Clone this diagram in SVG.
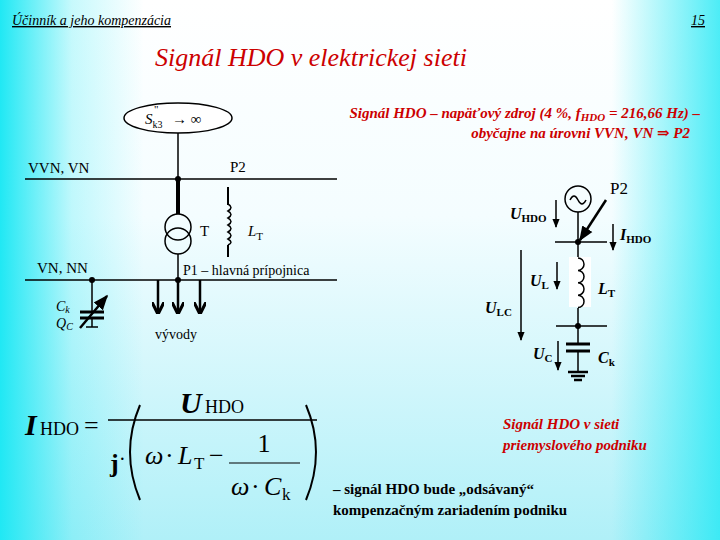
<svg xmlns="http://www.w3.org/2000/svg" width="720" height="540" viewBox="0 0 720 540" font-family="'Liberation Serif','DejaVu Serif',serif">
<defs>
<linearGradient id="gv" x1="0" y1="0" x2="0" y2="1"><stop offset="0" stop-color="#ffffff"/><stop offset="0.4" stop-color="#f4fdff"/><stop offset="1" stop-color="#b0f0f8"/></linearGradient>
<linearGradient id="gh" x1="0" y1="0" x2="1" y2="0"><stop offset="0" stop-color="#20e8f4"/><stop offset="0.1" stop-color="#20e8f4" stop-opacity="0.25"/><stop offset="0.2" stop-color="#20e8f4" stop-opacity="0"/><stop offset="0.85" stop-color="#20e8f4" stop-opacity="0"/><stop offset="1" stop-color="#20e8f4" stop-opacity="0.8"/></linearGradient>
<marker id="ah" viewBox="0 0 10 10" refX="9" refY="5" markerWidth="6" markerHeight="6" orient="auto"><path d="M0,1 L10,5 L0,9 Z" fill="#000"/></marker>
<marker id="av" viewBox="0 0 10 10" refX="9" refY="5" markerWidth="5" markerHeight="5" orient="auto"><path d="M0,0 L10,5 L0,10" fill="none" stroke="#000" stroke-width="2.5"/></marker>
</defs>
<style>
text{font-family:"Liberation Serif","DejaVu Serif",serif}
.t{fill:#000}
.r{fill:#cc0000;font-style:italic;font-weight:bold}
.w{stroke:#000;fill:none;stroke-width:1.5}
</style>
<rect width="720" height="540" fill="url(#gv)"/>
<rect width="720" height="540" fill="url(#gh)"/>
<text class="t" x="12" y="25" font-size="14" font-style="italic" text-decoration="underline">Účinník a jeho kompenzácia</text>
<text class="t" x="705" y="25" font-size="14" font-style="italic" text-anchor="end" text-decoration="underline">15</text>
<text class="r" x="155" y="66" font-size="26" style="font-weight:normal">Signál HDO v elektrickej sieti</text>
<text class="r" x="700" y="118" font-size="15" text-anchor="end">Signál HDO – napäťový zdroj (4 %, f<tspan font-size="11" dy="3">HDO</tspan><tspan dy="-3"> = 216,66 Hz) –</tspan></text>
<text class="r" x="690" y="138" font-size="15" text-anchor="end">obyčajne na úrovni VVN, VN ⇒ P2</text>
<g id="left-network">
<ellipse cx="178" cy="118" rx="54" ry="15" fill="#fff" stroke="#000" stroke-width="1.5"/>
<text class="t" x="145" y="124" font-size="15" font-style="italic">S<tspan font-size="10" font-style="normal" dy="4">k3</tspan></text>
<text class="t" x="154" y="113" font-size="11">"</text>
<text class="t" x="172" y="124" font-size="15">→ ∞</text>
<line x1="178" y1="133" x2="178" y2="179" class="w" stroke-width="2"/>
<line x1="25" y1="179" x2="337" y2="179" class="w" stroke-width="3"/>
<circle cx="178" cy="179" r="3"/>
<text class="t" x="28" y="173" font-size="15">VVN, VN</text>
<text class="t" x="230" y="172" font-size="15">P2</text>
<line x1="178" y1="179" x2="178" y2="214" stroke="#000" stroke-width="4"/>
<circle cx="178" cy="227" r="13" class="w" stroke-width="3"/>
<circle cx="178" cy="241" r="13" class="w" stroke-width="3"/>
<text class="t" x="200" y="236" font-size="15">T</text>
<path d="M228,204 q6,3.5 0,7 q6,3.5 0,7 q6,3.5 0,7 q6,3.5 0,7 q6,3.5 0,7 q6,3.5 0,6" class="w" stroke-width="1"/>
<line x1="228" y1="187" x2="228" y2="205" stroke="#000" stroke-width="2"/>
<line x1="228" y1="245" x2="228" y2="257" stroke="#000" stroke-width="2"/>
<text class="t" x="248" y="236" font-size="15" font-style="italic">L<tspan font-size="11" font-style="normal" dy="4">T</tspan></text>
<line x1="178" y1="254" x2="178" y2="280" class="w" stroke-width="2"/>
<line x1="25" y1="280" x2="337" y2="280" class="w" stroke-width="3"/>
<circle cx="178" cy="280" r="3"/>
<circle cx="92" cy="280" r="3"/>
<text class="t" x="37" y="273" font-size="15">VN, NN</text>
<text class="t" x="183" y="275" font-size="14">P1 – hlavná prípojnica</text>
<line x1="92" y1="280" x2="92" y2="311" class="w" stroke-width="2"/>
<line x1="80" y1="312" x2="104" y2="312" stroke="#000" stroke-width="3"/>
<line x1="80" y1="318" x2="104" y2="318" stroke="#000" stroke-width="3"/>
<line x1="92" y1="318" x2="92" y2="327" class="w" stroke-width="2"/>
<line x1="86" y1="327" x2="98" y2="327" class="w" stroke-width="2"/>
<line x1="80" y1="328" x2="107" y2="296" stroke="#000" stroke-width="2.5" marker-end="url(#ah)"/>
<text class="t" x="56" y="311" font-size="14" font-style="italic">C<tspan font-size="10" dy="2">k</tspan></text>
<text class="t" x="56" y="328" font-size="14" font-style="italic">Q<tspan font-size="10" dy="2">C</tspan></text>
<g stroke="#000" stroke-width="2.5"><line x1="158" y1="280" x2="158" y2="313" marker-end="url(#av)"/><line x1="178" y1="280" x2="178" y2="313" marker-end="url(#av)"/><line x1="200" y1="280" x2="200" y2="313" marker-end="url(#av)"/></g>
<text class="t" x="155" y="339" font-size="14">vývody</text>
</g>
<g id="right-circuit">
<circle cx="578" cy="199" r="13" class="w" stroke-width="2"/>
<path d="M570,200 q4,-8 8,0 t8,0" class="w" stroke-width="1.5"/>
<line x1="578" y1="212" x2="578" y2="258" class="w" stroke-width="1.5"/>
<line x1="555" y1="242" x2="607" y2="242" class="w" stroke-width="1.5"/>
<circle cx="578" cy="242" r="3"/>
<text class="t" x="610" y="194" font-size="17">P2</text>
<line x1="606" y1="200" x2="580" y2="240" stroke="#000" stroke-width="2.5" marker-end="url(#ah)"/>
<text class="t" x="510" y="219" font-size="16" font-style="italic" font-weight="bold">U<tspan font-size="11" font-style="normal" dy="3">HDO</tspan></text>
<line x1="556" y1="200" x2="556" y2="227" class="w" stroke-width="1" marker-end="url(#ah)"/>
<line x1="613" y1="224" x2="613" y2="250" class="w" stroke-width="1" marker-end="url(#ah)"/>
<text class="t" x="620" y="240" font-size="16" font-style="italic" font-weight="bold">I<tspan font-size="11" font-style="normal" dy="3">HDO</tspan></text>
<rect x="569" y="257" width="22" height="50" fill="#fff"/>
<path d="M578,258 a6,6.2 0 1 1 0,12.4 a6,6.2 0 1 1 0,12.4 a6,6.2 0 1 1 0,12.4 a6,6.2 0 1 1 0,12.4" class="w" stroke-width="2"/>
<line x1="578" y1="308" x2="578" y2="343" class="w" stroke-width="1.5"/>
<line x1="556" y1="326" x2="607" y2="326" class="w" stroke-width="1.5"/>
<circle cx="578" cy="326" r="3"/>
<line x1="521" y1="250" x2="521" y2="340" class="w" stroke-width="1" marker-end="url(#ah)"/>
<text class="t" x="485" y="313" font-size="16" font-style="italic" font-weight="bold">U<tspan font-size="11" font-style="normal" dy="3">LC</tspan></text>
<text class="t" x="530" y="286" font-size="16" font-style="italic" font-weight="bold">U<tspan font-size="11" font-style="normal" dy="3">L</tspan></text>
<line x1="557" y1="262" x2="557" y2="289" class="w" stroke-width="1" marker-end="url(#ah)"/>
<text class="t" x="598" y="294" font-size="16" font-style="italic" font-weight="bold">L<tspan font-size="11" font-style="normal" dy="3">T</tspan></text>
<line x1="566" y1="344" x2="590" y2="344" stroke="#000" stroke-width="3"/>
<line x1="566" y1="351" x2="590" y2="351" stroke="#000" stroke-width="3"/>
<line x1="578" y1="351" x2="578" y2="372" class="w" stroke-width="1.5"/>
<line x1="568" y1="372" x2="588" y2="372" stroke="#000" stroke-width="2.5"/>
<line x1="571" y1="376" x2="585" y2="376" stroke="#000" stroke-width="2.5"/>
<line x1="574" y1="380" x2="582" y2="380" stroke="#000" stroke-width="2.5"/>
<text class="t" x="533" y="359" font-size="16" font-style="italic" font-weight="bold">U<tspan font-size="11" font-style="normal" dy="3">C</tspan></text>
<line x1="558" y1="341" x2="558" y2="370" class="w" stroke-width="1" marker-end="url(#ah)"/>
<text class="t" x="598" y="363" font-size="16" font-style="italic" font-weight="bold">C<tspan font-size="11" font-style="normal" dy="3">k</tspan></text>
</g>
<g id="formula">
<text class="t" x="25" y="435" font-size="30" font-style="italic" font-weight="bold">I</text>
<text class="t" x="40" y="435" font-size="18">HDO</text>
<text class="t" x="84" y="434" font-size="26">=</text>
<line x1="108" y1="420" x2="317" y2="420" stroke="#000" stroke-width="1.5"/>
<text class="t" x="180" y="413" font-size="30" font-style="italic" font-weight="bold">U</text>
<text class="t" x="205" y="413" font-size="18">HDO</text>
<text class="t" x="110" y="472" font-size="26" font-weight="bold">j</text>
<text class="t" x="119" y="466" font-size="20">·</text>
<path d="M140,405 Q120,452 140,500" fill="none" stroke="#000" stroke-width="2"/>
<path d="M306,405 Q326,452 306,500" fill="none" stroke="#000" stroke-width="2"/>
<text class="t" x="145" y="464" font-size="26" font-style="italic">ω</text>
<text class="t" x="165" y="464" font-size="26">·</text>
<text class="t" x="178" y="464" font-size="26" font-style="italic">L</text>
<text class="t" x="194" y="469" font-size="17">T</text>
<text class="t" x="209" y="464" font-size="26">−</text>
<line x1="229" y1="463" x2="300" y2="463" stroke="#000" stroke-width="1.2"/>
<text class="t" x="264" y="452" font-size="26" text-anchor="middle">1</text>
<text class="t" x="231" y="495" font-size="26" font-style="italic">ω</text>
<text class="t" x="251" y="495" font-size="26">·</text>
<text class="t" x="264" y="495" font-size="26" font-style="italic">C</text>
<text class="t" x="282" y="500" font-size="17">k</text>
</g>
<text class="r" x="503" y="429" font-size="15">Signál HDO v sieti</text>
<text class="r" x="503" y="450" font-size="15">priemyslového podniku</text>
<text class="t" x="333" y="494" font-size="15" font-weight="bold">– signál HDO bude „odsávaný“</text>
<text class="t" x="333" y="515" font-size="15" font-weight="bold">kompenzačným zariadením podniku</text>
</svg>
